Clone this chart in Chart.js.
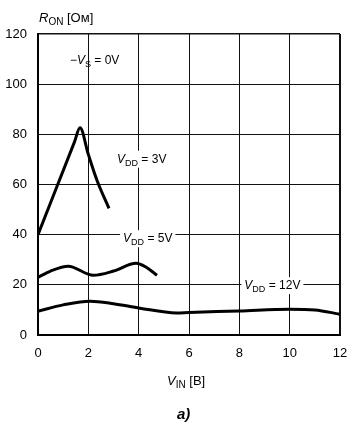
<!DOCTYPE html>
<html>
<head>
<meta charset="utf-8">
<script src="https://cdn.jsdelivr.net/npm/chart.js@4"></script>
<style>
  html, body { margin: 0; padding: 0; background: #fff; }
  canvas { display: block; }
</style>
</head>
<body>
<canvas id="ronChart" width="352" height="425"></canvas>
<script>
// V_IN [В] / R_ON [Ом]
const vIn3 = [0, 1.45, 1.67, 2.0, 2.35, 2.82];
const rOn3 = [40, 77, 82.6, 72, 61.5, 50.5];

const vIn5 = [0, 0.5, 1.2, 2.2, 3.0, 3.9, 4.3, 4.73];
const rOn5 = [23, 25.5, 27.4, 23.8, 25.5, 28.6, 27, 23.8];

const vIn12 = [0, 1, 2.07, 3, 4.05, 5.5, 6, 8, 10, 11, 12];
const rOn12 = [9.5, 12, 13.5, 12.5, 10.7, 8.8, 9.0, 9.6, 10.3, 10, 8.3];

const xTicks = [0, 2, 4, 6, 8, 10, 12];
const yTicks = [0, 20, 40, 60, 80, 100, 120];

const FONT = '"Liberation Sans", Arial, sans-serif';

function toPoints(xs, ys) {
    return xs.map((x, i) => ({ x: x, y: ys[i] }));
}

// text pieces: {t, it: italic, sub: subscript, b: bold}
function drawParts(ctx, x, y, parts, size, withBg) {
    const fontFor = p => {
        const s = p.sub ? Math.round(size * 0.78) : size;
        return (p.it ? 'italic ' : '') + (p.b ? 'bold ' : '') + s + 'px ' + FONT;
    };
    let w = 0;
    parts.forEach(p => { ctx.font = fontFor(p); w += ctx.measureText(p.t).width; });
    if (withBg) {
        ctx.fillStyle = '#fff';
        ctx.fillRect(x - 3, y - size, w + 6, size + 5);
    }
    ctx.fillStyle = '#000';
    ctx.textBaseline = 'alphabetic';
    ctx.textAlign = 'left';
    let cx = x;
    parts.forEach(p => {
        ctx.font = fontFor(p);
        ctx.fillText(p.t, cx, p.sub ? y + 3 : y);
        cx += ctx.measureText(p.t).width;
    });
    return w;
}

const inPlotLabels = [
    { x: 1.27, y: 108, bg: false, parts: [{ t: '\u2212' }, { t: 'V', it: true }, { t: 'S', sub: true }, { t: ' = 0V' }] },
    { x: 3.14, y: 68.7, bg: true, parts: [{ t: 'V', it: true }, { t: 'DD', sub: true }, { t: ' = 3V' }] },
    { x: 3.38, y: 37, bg: true, parts: [{ t: 'V', it: true }, { t: 'DD', sub: true }, { t: ' = 5V' }] },
    { x: 8.2, y: 18.3, bg: true, parts: [{ t: 'V', it: true }, { t: 'DD', sub: true }, { t: ' = 12V' }] }
];

const labelPlugin = {
    id: 'labels',
    afterDatasetsDraw(chart) {
        const ctx = chart.ctx;
        const xs = chart.scales.x, ys = chart.scales.y;
        ctx.save();
        inPlotLabels.forEach(l => {
            drawParts(ctx, xs.getPixelForValue(l.x), ys.getPixelForValue(l.y), l.parts, 12, l.bg);
        });
        // axis titles
        drawParts(ctx, chart.chartArea.left + 1, 22, [{ t: 'R', it: true }, { t: 'ON', sub: true }, { t: ' [Ом]' }], 13, false);
        drawParts(ctx, 167, 385, [{ t: 'V', it: true }, { t: 'IN', sub: true }, { t: ' [В]' }], 13, false);
        drawParts(ctx, 177, 419, [{ t: 'a)', it: true, b: true }], 15, false);
        ctx.restore();
    }
};

const lineStyle = {
    borderColor: '#000',
    borderWidth: 3,
    pointRadius: 0,
    cubicInterpolationMode: 'monotone',
    fill: false
};

new Chart(document.getElementById('ronChart'), {
    type: 'line',
    data: {
        datasets: [
            Object.assign({ label: 'VDD = 3V', data: toPoints(vIn3, rOn3) }, lineStyle),
            Object.assign({ label: 'VDD = 5V', data: toPoints(vIn5, rOn5) }, lineStyle),
            Object.assign({ label: 'VDD = 12V', data: toPoints(vIn12, rOn12) }, lineStyle)
        ]
    },
    options: {
        responsive: false,
        animation: false,
        layout: {
            padding: { left: 0, top: 34, right: 12, bottom: 60 }
        },
        scales: {
            x: {
                type: 'linear',
                min: 0,
                max: 12,
                afterFit: s => { s.height = 30; s.paddingLeft = 0; s.paddingRight = 0; },
                afterBuildTicks: s => { s.ticks = xTicks.map(v => ({ value: v })); },
                grid: {
                    color: '#111',
                    lineWidth: c => (c.tick && c.tick.value === 12 ? 2 : 1),
                    drawTicks: false
                },
                border: { color: '#000', width: 2 },
                ticks: {
                    padding: 11,
                    color: '#000',
                    font: { family: FONT, size: 13 }
                }
            },
            y: {
                min: 0,
                max: 120,
                afterFit: s => { s.width = 38; s.paddingTop = 0; s.paddingBottom = 0; },
                afterBuildTicks: s => { s.ticks = yTicks.map(v => ({ value: v })); },
                grid: {
                    color: '#111',
                    lineWidth: c => (c.tick && c.tick.value === 120 ? 1.5 : 1),
                    drawTicks: false
                },
                border: { color: '#000', width: 2 },
                ticks: {
                    padding: 11,
                    color: '#000',
                    font: { family: FONT, size: 13 }
                }
            }
        },
        plugins: {
            legend: { display: false },
            tooltip: { enabled: false }
        }
    },
    plugins: [labelPlugin]
});
</script>
</body>
</html>
